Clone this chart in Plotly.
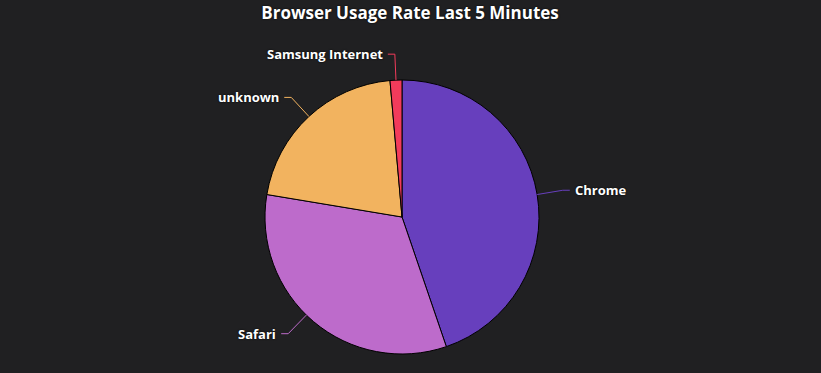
import math
import plotly.graph_objects as go

title = "Browser Usage Rate Last 5 Minutes"
labels = ["Chrome", "Safari", "unknown", "Samsung Internet"]
values = [64, 47, 30, 2]
colors = ["#673fbd", "#bd6bcb", "#f2b35f", "#f33b5b"]
# connector angle nudges (degrees), layout only
connector_nudge = [0, 4, 0, 0]

W_FIG, H_FIG = 821, 373
ML, MR, MT, MB = 0, 17, 80, 19
PW, PH = W_FIG - ML - MR, H_FIG - MT - MB
CX, CY = ML + PW / 2, MT + PH / 2
R = min(PW, PH) / 2


def to_paper(px, py):
    return (px - ML) / PW, 1 - (py - MT) / PH


fig = go.Figure(go.Pie(
    labels=labels, values=values, sort=False, direction="clockwise", rotation=0,
    marker=dict(colors=colors, line=dict(color="#000000", width=1)),
    textinfo="none", hoverinfo="label+percent", showlegend=False,
))

total = sum(values)
cum = 0
shapes, annotations = [], []
for lab, v, c, nudge in zip(labels, values, colors, connector_nudge):
    mid = (cum + v / 2) / total * 2 * math.pi + math.radians(nudge)
    cum += v
    dx, dy = math.sin(mid), -math.cos(mid)
    p0 = (CX + dx * R, CY + dy * R)
    p1 = (CX + dx * (R + 26), CY + dy * (R + 26))
    side = 1 if dx >= 0 else -1
    p2 = (p1[0] + side * 7, p1[1])
    pts = [to_paper(*p) for p in (p0, p1, p2)]
    path = "M {} {} L {} {} L {} {}".format(pts[0][0], pts[0][1], pts[1][0], pts[1][1], pts[2][0], pts[2][1])
    shapes.append(dict(type="path", xref="paper", yref="paper", path=path,
                       line=dict(color=c, width=1)))
    tx, ty = to_paper(p2[0] + side * 3, p2[1])
    annotations.append(dict(
        x=tx, y=ty, xref="paper", yref="paper", text=lab, showarrow=False,
        xanchor="left" if side > 0 else "right", yanchor="middle",
        font=dict(family="Open Sans", size=13, color="#ffffff", weight=700,
                  shadow="0px 0px 2px #000000"),
    ))

fig.update_layout(
    width=W_FIG, height=H_FIG,
    margin=dict(l=ML, r=MR, t=MT, b=MB),
    paper_bgcolor="#202022", plot_bgcolor="#202022",
    title=dict(text=title, x=410 / W_FIG, xref="container", xanchor="center",
               y=0.965, yanchor="middle",
               font=dict(family="Open Sans", size=17, color="#ffffff", weight=700,
                         shadow="0px 0px 2px #000000")),
    shapes=shapes, annotations=annotations,
)

fig.write_html("out.html")
